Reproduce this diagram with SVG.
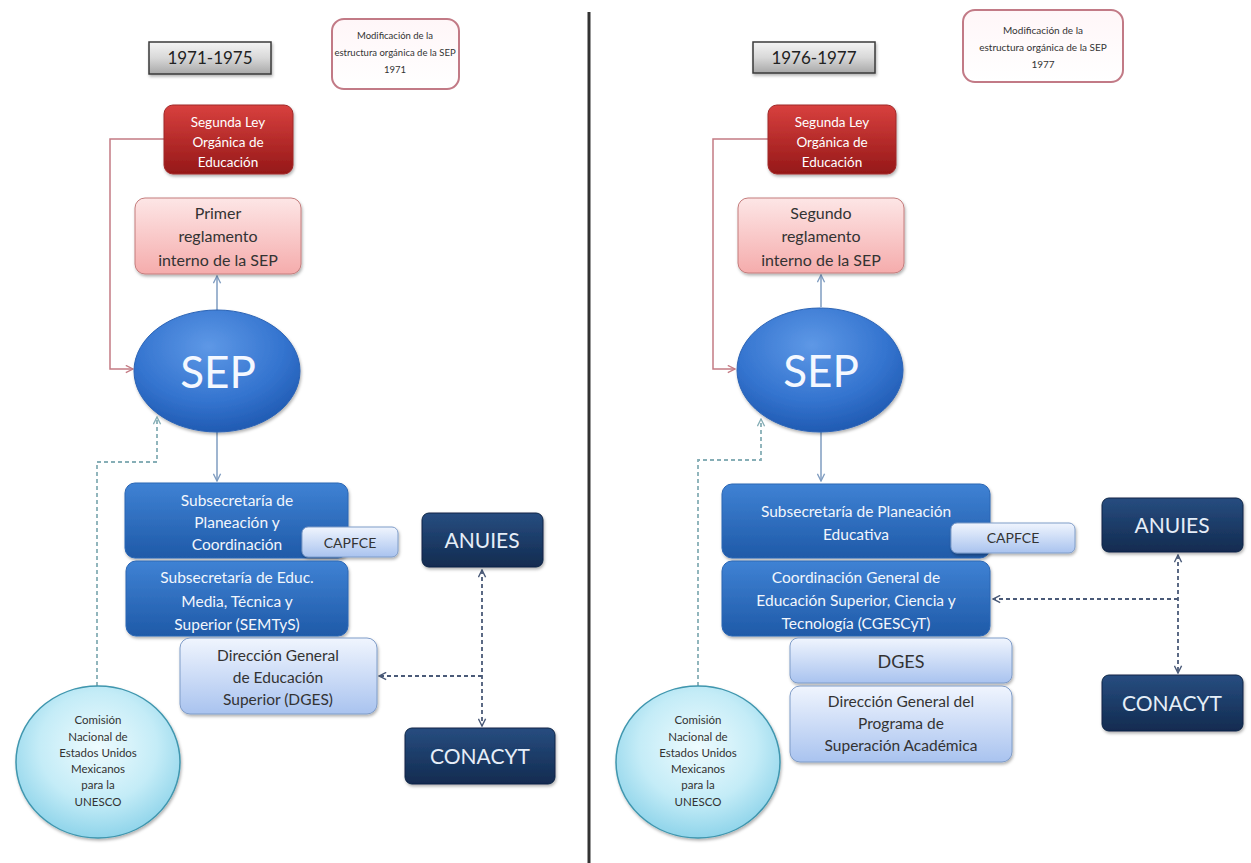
<svg xmlns="http://www.w3.org/2000/svg" width="1251" height="863" viewBox="0 0 1251 863">
<defs>
<linearGradient id="gYear" x1="0" y1="0" x2="0" y2="1"><stop offset="0" stop-color="#f4f4f4"/><stop offset="0.5" stop-color="#d8d8d8"/><stop offset="1" stop-color="#a8a8a8"/></linearGradient>
<linearGradient id="gMod" x1="0" y1="0" x2="0" y2="1"><stop offset="0" stop-color="#fff6f8"/><stop offset="1" stop-color="#ffffff"/></linearGradient>
<linearGradient id="gRed" x1="0" y1="0" x2="0" y2="1"><stop offset="0" stop-color="#d8403e"/><stop offset="1" stop-color="#951818"/></linearGradient>
<linearGradient id="gPink" x1="0" y1="0" x2="0" y2="1"><stop offset="0" stop-color="#fde6e6"/><stop offset="1" stop-color="#f5acac"/></linearGradient>
<radialGradient id="gSep" cx="0.45" cy="0.3" r="0.75"><stop offset="0" stop-color="#5e98e6"/><stop offset="0.6" stop-color="#3474cf"/><stop offset="1" stop-color="#1d56ad"/></radialGradient>
<linearGradient id="gBlue" x1="0" y1="0" x2="0" y2="1"><stop offset="0" stop-color="#3f82d4"/><stop offset="1" stop-color="#1f5aa8"/></linearGradient>
<linearGradient id="gLight" x1="0" y1="0" x2="0" y2="1"><stop offset="0" stop-color="#f0f5fe"/><stop offset="1" stop-color="#a9c3ef"/></linearGradient>
<linearGradient id="gNavy" x1="0" y1="0" x2="0" y2="1"><stop offset="0" stop-color="#274d80"/><stop offset="1" stop-color="#122b50"/></linearGradient>
<radialGradient id="gCyan" cx="0.5" cy="0.4" r="0.6"><stop offset="0" stop-color="#eefbfe"/><stop offset="0.6" stop-color="#c4ecf7"/><stop offset="1" stop-color="#8fd4ea"/></radialGradient>
<filter id="sh" x="-10%" y="-10%" width="125%" height="130%"><feDropShadow dx="1" dy="2" stdDeviation="1.5" flood-color="#000" flood-opacity="0.3"/></filter>
<marker id="aBlue" viewBox="0 0 10 10" refX="9" refY="5" markerWidth="9" markerHeight="9" orient="auto-start-reverse" markerUnits="userSpaceOnUse"><path d="M1,1 L9,5 L1,9" fill="none" stroke="#7f9cc0" stroke-width="1.5"/></marker>
<marker id="aRed" viewBox="0 0 10 10" refX="9" refY="5" markerWidth="9" markerHeight="9" orient="auto-start-reverse" markerUnits="userSpaceOnUse"><path d="M1,1 L9,5 L1,9" fill="none" stroke="#c47b84" stroke-width="1.5"/></marker>
<marker id="aTeal" viewBox="0 0 10 10" refX="9" refY="5" markerWidth="9" markerHeight="9" orient="auto-start-reverse" markerUnits="userSpaceOnUse"><path d="M1,1 L9,5 L1,9" fill="none" stroke="#86aeb6" stroke-width="1.5"/></marker>
<marker id="aNavy" viewBox="0 0 10 10" refX="9" refY="5" markerWidth="9" markerHeight="9" orient="auto-start-reverse" markerUnits="userSpaceOnUse"><path d="M1,1 L9,5 L1,9" fill="none" stroke="#4a5a78" stroke-width="1.6"/></marker>
<style>
text{font-family:Lato,"Open Sans","Liberation Sans",sans-serif;text-anchor:middle}
.year{fill:url(#gYear);stroke:#3a3a3a;stroke-width:1.5}
.yt{font-size:17px;fill:#222}
.mod{fill:url(#gMod);stroke:#c27a86;stroke-width:2}
.mt{font-size:9.5px;fill:#333}
.red{fill:url(#gRed);stroke:#a02828;stroke-width:1}
.rt{font-size:13.5px;fill:#fff}
.pink{fill:url(#gPink);stroke:#c47c7c;stroke-width:1}
.pt{font-size:16px;fill:#333}
.sep{fill:url(#gSep);stroke:#2a62b4;stroke-width:1}
.st{font-size:44px;fill:#f4f8ff}
.blue{fill:url(#gBlue);stroke:#2a66b4;stroke-width:1}
.bt{font-size:15.5px;fill:#f2f6fc}
.light{fill:url(#gLight);stroke:#7f9cc8;stroke-width:1}
.lt{font-size:15.5px;fill:#333}
.navy{fill:url(#gNavy);stroke:#0f2546;stroke-width:1}
.nt{font-size:21px;fill:#e6eef8}
.cyan{fill:url(#gCyan);stroke:#3f96ae;stroke-width:1.5}
.ct{font-size:11.5px;fill:#333}
.cBlue{fill:none;stroke:#7f9cc0;stroke-width:1.5}
.cRed{fill:none;stroke:#c47b84;stroke-width:1.5}
.cTeal{fill:none;stroke:#86aeb6;stroke-width:1.8;stroke-dasharray:4 3}
.cNavy{fill:none;stroke:#4a5a78;stroke-width:1.8;stroke-dasharray:4 3}
</style>
</defs>
<rect width="1251" height="863" fill="#ffffff"/>
<line x1="589" y1="12" x2="589" y2="863" stroke="#333" stroke-width="3"/>

<g id="connectors">
<path class="cRed" d="M164,139 H110 V369 H133" marker-end="url(#aRed)"/>
<path class="cBlue" d="M217,310 V276" marker-end="url(#aBlue)"/>
<path class="cBlue" d="M217,432 V481" marker-end="url(#aBlue)"/>
<path class="cTeal" d="M97,686 V462 H157 V417" marker-end="url(#aTeal)"/>
<path class="cNavy" d="M482,570 V726" marker-start="url(#aNavy)" marker-end="url(#aNavy)"/>
<path class="cNavy" d="M482,676 H379" marker-end="url(#aNavy)"/>

<path class="cRed" d="M768,139 H713 V369 H735" marker-end="url(#aRed)"/>
<path class="cBlue" d="M821,307 V275" marker-end="url(#aBlue)"/>
<path class="cBlue" d="M821,432 V481" marker-end="url(#aBlue)"/>
<path class="cTeal" d="M698,686 V460 H761 V419" marker-end="url(#aTeal)"/>
<path class="cNavy" d="M1178,555 V673" marker-start="url(#aNavy)" marker-end="url(#aNavy)"/>
<path class="cNavy" d="M1178,599 H993" marker-end="url(#aNavy)"/>
</g>

<!-- Left side -->
<g id="year1"><rect class="year" x="149" y="42" width="122" height="32" filter="url(#sh)"/><text class="yt" x="210" y="64">1971-1975</text></g>
<g id="mod1"><rect class="mod" x="332" y="19" width="127" height="70" rx="12"/><text class="mt" x="395" y="39">Modificación de la</text><text class="mt" x="395" y="56">estructura orgánica de la SEP</text><text class="mt" x="395" y="73">1971</text></g>
<g id="ley1"><rect class="red" x="164" y="105" width="129" height="69" rx="9" filter="url(#sh)"/><text class="rt" x="228" y="127">Segunda Ley</text><text class="rt" x="228" y="147">Orgánica de</text><text class="rt" x="228" y="167">Educación</text></g>
<g id="reg1"><rect class="pink" x="135" y="198" width="166" height="76" rx="10" filter="url(#sh)"/><text class="pt" x="218" y="219">Primer</text><text class="pt" x="218" y="242">reglamento</text><text class="pt" x="218" y="266">interno de la SEP</text></g>
<g id="sep1"><ellipse class="sep" cx="217" cy="371" rx="83" ry="61" filter="url(#sh)"/><text class="st" x="218" y="388">SEP</text></g>
<g id="sub1"><rect class="blue" x="125" y="483" width="223" height="75" rx="10" filter="url(#sh)"/><text class="bt" x="237" y="506">Subsecretaría de</text><text class="bt" x="237" y="528">Planeación y</text><text class="bt" x="237" y="550">Coordinación</text></g>
<g id="capfce1"><rect class="light" x="302" y="527" width="96" height="30" rx="6" filter="url(#sh)"/><text class="lt" x="350" y="548" style="font-size:14px">CAPFCE</text></g>
<g id="semtys1"><rect class="blue" x="126" y="561" width="222" height="75" rx="10" filter="url(#sh)"/><text class="bt" x="237" y="583">Subsecretaría de Educ.</text><text class="bt" x="237" y="607">Media, Técnica y</text><text class="bt" x="237" y="630">Superior (SEMTyS)</text></g>
<g id="dges1"><rect class="light" x="180" y="638" width="197" height="76" rx="10" filter="url(#sh)"/><text class="lt" x="278" y="661">Dirección General</text><text class="lt" x="278" y="683">de Educación</text><text class="lt" x="278" y="705">Superior (DGES)</text></g>
<g id="anuies1"><rect class="navy" x="422" y="513" width="121" height="54" rx="7" filter="url(#sh)"/><text class="nt" x="482" y="548">ANUIES</text></g>
<g id="conacyt1"><rect class="navy" x="405" y="728" width="150" height="56" rx="7" filter="url(#sh)"/><text class="nt" x="480" y="764">CONACYT</text></g>
<g id="unesco1"><ellipse class="cyan" cx="98" cy="762" rx="82" ry="76" filter="url(#sh)"/><text class="ct" x="98" y="724">Comisión</text><text class="ct" x="98" y="741">Nacional de</text><text class="ct" x="98" y="757">Estados Unidos</text><text class="ct" x="98" y="773">Mexicanos</text><text class="ct" x="98" y="789">para la</text><text class="ct" x="98" y="806">UNESCO</text></g>

<!-- Right side -->
<g id="year2"><rect class="year" x="753" y="42" width="122" height="31" filter="url(#sh)"/><text class="yt" x="814" y="64">1976-1977</text></g>
<g id="mod2"><rect class="mod" x="963" y="10" width="160" height="72" rx="12"/><text class="mt" x="1043" y="34" style="font-size:10px">Modificación de la</text><text class="mt" x="1043" y="51" style="font-size:10px">estructura orgánica de la SEP</text><text class="mt" x="1043" y="68" style="font-size:10px">1977</text></g>
<g id="ley2"><rect class="red" x="768" y="105" width="128" height="69" rx="9" filter="url(#sh)"/><text class="rt" x="832" y="127">Segunda Ley</text><text class="rt" x="832" y="147">Orgánica de</text><text class="rt" x="832" y="167">Educación</text></g>
<g id="reg2"><rect class="pink" x="738" y="198" width="166" height="75" rx="10" filter="url(#sh)"/><text class="pt" x="821" y="219">Segundo</text><text class="pt" x="821" y="242">reglamento</text><text class="pt" x="821" y="266">interno de la SEP</text></g>
<g id="sep2"><ellipse class="sep" cx="820" cy="370" rx="83" ry="62" filter="url(#sh)"/><text class="st" x="821" y="387">SEP</text></g>
<g id="sub2"><rect class="blue" x="722" y="484" width="268" height="74" rx="10" filter="url(#sh)"/><text class="bt" x="856" y="517">Subsecretaría de Planeación</text><text class="bt" x="856" y="540">Educativa</text></g>
<g id="capfce2"><rect class="light" x="951" y="523" width="124" height="30" rx="6" filter="url(#sh)"/><text class="lt" x="1013" y="543" style="font-size:14px">CAPFCE</text></g>
<g id="cgescyt2"><rect class="blue" x="722" y="561" width="268" height="75" rx="10" filter="url(#sh)"/><text class="bt" x="856" y="583">Coordinación General de</text><text class="bt" x="856" y="606">Educación Superior, Ciencia y</text><text class="bt" x="856" y="629">Tecnología (CGESCyT)</text></g>
<g id="dges2"><rect class="light" x="790" y="638" width="222" height="45" rx="8" filter="url(#sh)"/><text class="lt" x="901" y="668" style="font-size:18px">DGES</text></g>
<g id="dgpsa2"><rect class="light" x="790" y="686" width="222" height="76" rx="10" filter="url(#sh)"/><text class="lt" x="901" y="707">Dirección General del</text><text class="lt" x="901" y="729">Programa de</text><text class="lt" x="901" y="751">Superación Académica</text></g>
<g id="anuies2"><rect class="navy" x="1102" y="498" width="141" height="54" rx="7" filter="url(#sh)"/><text class="nt" x="1172" y="533">ANUIES</text></g>
<g id="conacyt2"><rect class="navy" x="1102" y="675" width="141" height="56" rx="7" filter="url(#sh)"/><text class="nt" x="1172" y="711">CONACYT</text></g>
<g id="unesco2"><ellipse class="cyan" cx="698" cy="762" rx="82" ry="76" filter="url(#sh)"/><text class="ct" x="698" y="724">Comisión</text><text class="ct" x="698" y="741">Nacional de</text><text class="ct" x="698" y="757">Estados Unidos</text><text class="ct" x="698" y="773">Mexicanos</text><text class="ct" x="698" y="789">para la</text><text class="ct" x="698" y="806">UNESCO</text></g>
</svg>
